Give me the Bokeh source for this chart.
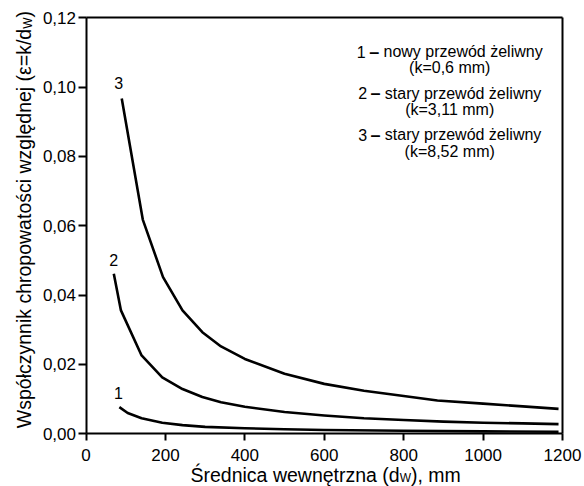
from bokeh.plotting import figure
from bokeh.models import FixedTicker, Label, Range1d, LinearAxis
from bokeh.embed import file_html
from bokeh.resources import INLINE

FONT = "Liberation Sans"

# --- data ---
d1 = [84, 105, 140, 192, 243, 300, 400, 500, 600, 800, 1000, 1190]
eps1 = [0.0077, 0.0060, 0.0045, 0.0032, 0.0025, 0.0020, 0.0016, 0.0013, 0.0011, 0.0009, 0.0007, 0.0006]

d2 = [70, 88, 140, 192, 243, 293, 340, 400, 500, 600, 700, 800, 900, 1000, 1100, 1190]
eps2 = [0.0462, 0.0356, 0.0226, 0.0163, 0.0129, 0.0106, 0.0091, 0.0078, 0.0063, 0.0053,
        0.0045, 0.0040, 0.0035, 0.0032, 0.0030, 0.0028]

d3 = [90, 143, 194, 243, 293, 340, 400, 500, 600, 700, 800, 885, 1000, 1100, 1190]
eps3 = [0.0967, 0.0618, 0.0452, 0.0356, 0.0293, 0.0252, 0.0216, 0.0173, 0.0144, 0.0124,
        0.0109, 0.0096, 0.0087, 0.0079, 0.0072]

x_ticks = [0, 200, 400, 600, 800, 1000, 1200]
x_tick_labels = ["0", "200", "400", "600", "800", "1000", "1200"]
y_ticks = [0.0, 0.02, 0.04, 0.06, 0.08, 0.10, 0.12]
y_tick_labels = ["0,00", "0,02", "0,04", "0,06", "0,08", "0,10", "0,12"]

# legend entries: number, description, parameter line
legend_nums = ["1", "2", "3"]
legend_desc = ["nowy przewód żeliwny", "stary przewód żeliwny", "stary przewód żeliwny"]
legend_k = ["(k=0,6 mm)", "(k=3,11 mm)", "(k=8,52 mm)"]

X_MIN, X_MAX = 0, 1200
Y_MIN, Y_MAX = 0.0, 0.12

# --- layout: the frame fills the canvas; axes are placed at fixed data locations ---
W, H = 584, 486
X0_PX, X1_PX = 85.5, 562.0     # pixel position of x = 0 and x = 1200
Y0_PX, Y1_PX = 433.3, 17.3     # pixel position of y = 0 and y = 0.12
kx = (X1_PX - X0_PX) / (X_MAX - X_MIN)
ky = (Y0_PX - Y1_PX) / (Y_MAX - Y_MIN)
x_range = Range1d(X_MIN - X0_PX / kx, X_MAX + (W - X1_PX) / kx)
y_range = Range1d(Y_MIN - (H - Y0_PX) / ky, Y_MAX + Y1_PX / ky)

p = figure(width=W, height=H, x_range=x_range, y_range=y_range, title=None,
           output_backend="svg", toolbar_location=None,
           x_axis_location=None, y_axis_location=None,
           min_border=0, min_border_left=0, min_border_right=0,
           min_border_top=0, min_border_bottom=0)
p.grid.visible = False
p.outline_line_color = None
p.background_fill_color = "white"
p.border_fill_color = "white"


def style_axis(ax):
    ax.axis_line_width = 2
    ax.axis_line_color = "black"
    ax.major_tick_line_width = 2
    ax.major_tick_line_color = "black"
    ax.major_tick_in = 0
    ax.minor_tick_line_color = None
    ax.major_label_text_font = FONT
    ax.major_label_text_font_size = "17px"
    ax.major_label_text_color = "black"


xaxis = LinearAxis(fixed_location=Y_MIN, bounds=(X_MIN, X_MAX),
                   ticker=FixedTicker(ticks=x_ticks))
style_axis(xaxis)
xaxis.major_label_overrides = dict(zip(x_ticks, x_tick_labels))
xaxis.major_tick_out = 7
xaxis.major_label_standoff = 8
p.add_layout(xaxis, "below")

yaxis = LinearAxis(fixed_location=X_MIN, bounds=(Y_MIN, Y_MAX),
                   ticker=FixedTicker(ticks=y_ticks))
style_axis(yaxis)
yaxis.major_label_overrides = dict(zip(y_ticks, y_tick_labels))
yaxis.major_tick_out = 8
yaxis.major_label_standoff = 2
p.add_layout(yaxis, "left")

# top and right frame lines as plain axes without ticks
top = LinearAxis(fixed_location=Y_MAX, bounds=(X_MIN, X_MAX), ticker=FixedTicker(ticks=[]))
right = LinearAxis(fixed_location=X_MAX, bounds=(Y_MIN, Y_MAX), ticker=FixedTicker(ticks=[]))
for ax in (top, right):
    style_axis(ax)
    ax.major_tick_line_color = None
p.add_layout(top, "above")
p.add_layout(right, "right")

# --- curves ---
for xs, ys in ((d1, eps1), (d2, eps2), (d3, eps3)):
    p.line(xs, ys, line_color="black", line_width=2.6, line_join="round")

# curve number labels just above each curve's first point
for name, xs, ys, dx, dy in (("1", d1, eps1, -1, 14), ("2", d2, eps2, 0, 14), ("3", d3, eps3, -3, 16)):
    p.add_layout(Label(x=xs[0], y=ys[0], text=name, x_offset=dx, y_offset=dy,
                       text_align="center", text_baseline="alphabetic",
                       text_font=FONT, text_font_size="16px", text_color="black"))


def lab(x, y, text, dx=0, dy=0, size="16px", align="left", style="normal", angle=0):
    p.add_layout(Label(x=x, y=y, text=text, x_offset=dx, y_offset=dy, angle=angle,
                       text_align=align, text_baseline="alphabetic",
                       text_font=FONT, text_font_size=size, text_font_style=style,
                       text_color="black"))


# legend text block (centred lines; the dash is drawn bold as in the reference)
LF = 16.0
leg_x = 916
leg_y_title = [0.1102, 0.0982, 0.0862]
leg_y_k = [0.1057, 0.0936, 0.0813]
desc_em = {"nowy przewód żeliwny": 9.947, "stary przewód żeliwny": 9.780}
for num, desc, kk, yt, yk in zip(legend_nums, legend_desc, legend_k, leg_y_title, leg_y_k):
    total = (0.556 + 0.278 + 0.556 + 0.278 + desc_em[desc]) * LF
    s = -total / 2
    num_end = s + 0.556 * LF
    dash_start = num_end + 0.278 * LF
    dash_end = dash_start + 0.556 * LF
    desc_start = dash_end + 0.278 * LF
    lab(leg_x, yt, num, dx=num_end, align="right")
    lab(leg_x, yt, "\u2013", dx=dash_start - 1, size="18px", style="bold")
    lab(leg_x, yt, desc, dx=desc_start)
    lab(leg_x, yk, kk, align="center")

# x axis title with subscript
XF = 19.5
SF = 12
wA = 10.726 * XF          # width of "Średnica wewnętrzna (d"
wW = 0.944 * SF           # width of subscript "W"
x0 = 104.5
lab(0, 0, "Średnica wewnętrzna (d", dx=x0, dy=-41, size=f"{XF}px")
lab(0, 0, "W", dx=x0 + wA, dy=-44, size=f"{SF}px")
lab(0, 0, "), mm", dx=x0 + wA + wW, dy=-41, size=f"{XF}px")

# y axis title (rotated) with subscript
YF = 19.5
yx = -62
yend = 405
lab(0, 0, "Współczynnik chropowatości względnej (ε=k/d", dx=yx, dy=yend,
    size=f"{YF}px", align="right", angle=1.5708)
lab(0, 0, "W", dx=yx + 4, dy=yend, size=f"{SF}px", angle=1.5708)
lab(0, 0, ")", dx=yx, dy=yend + wW, size=f"{YF}px", angle=1.5708)

open("out.html", "w").write(file_html(p, INLINE))
